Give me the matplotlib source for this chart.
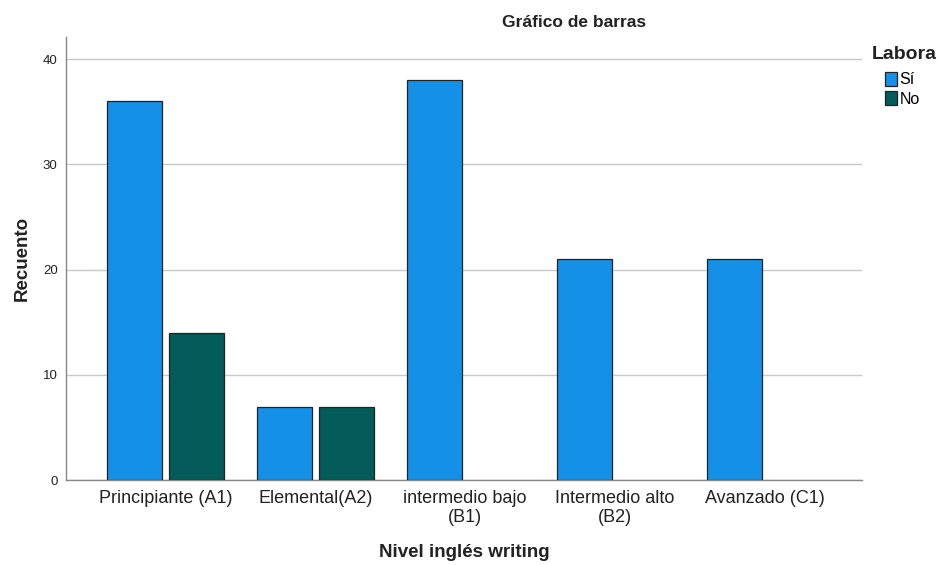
#!/usr/bin/env python3
import matplotlib.pyplot as plt
import numpy as np

plt.rcParams['font.family'] = ['Liberation Sans', 'DejaVu Sans']

niveles = ['Principiante (A1)', 'Elemental(A2)', 'intermedio bajo\n(B1)',
           'Intermedio alto\n(B2)', 'Avanzado (C1)']
si = [36, 7, 38, 21, 21]
no = [14, 7, 0, 0, 0]

color_si = '#1490e6'
color_no = '#035c5a'


def main():
    fig = plt.figure(figsize=(9.4, 5.65), dpi=100)
    ax = fig.add_axes([0.0702, 0.150, 0.847, 0.7845])

    x = np.arange(len(niveles))
    w = 0.367
    off = 0.205
    h_si = ax.bar(x - off, si, w, color=color_si, edgecolor='#222222', linewidth=0.9, zorder=3)
    # categories with zero count get no bar
    no_x = [xi + off for xi, v in zip(x, no) if v > 0]
    no_v = [v for v in no if v > 0]
    h_no = ax.bar(no_x, no_v, w, color=color_no, edgecolor='#222222', linewidth=0.9, zorder=3)

    ax.set_xlim(-0.665, 4.65)
    ax.set_ylim(0, 42.1)
    ax.set_yticks([0, 10, 20, 30, 40])
    ax.set_xticks(x)
    ax.set_xticklabels(niveles, fontsize=13, color='#222222', linespacing=1.12)
    ax.tick_params(axis='x', length=0, pad=7)
    ax.tick_params(axis='y', length=0, pad=6, labelsize=9.5, labelcolor='#222222')
    ax.grid(axis='y', color='#c8c8c8', linewidth=1.0, zorder=0)

    for s in ['top', 'right']:
        ax.spines[s].set_visible(False)
    for s in ['left', 'bottom']:
        ax.spines[s].set_color('#888888')
        ax.spines[s].set_linewidth(1.0)

    fig.text(0.611, 0.961, 'Gráfico de barras', ha='center', va='center',
             fontsize=12.5, fontweight='bold', color='#222222')
    ax.set_ylabel('Recuento', fontsize=13.5, fontweight='bold', color='#222222', labelpad=9)
    ax.set_xlabel('Nivel inglés writing', fontsize=13.5, fontweight='bold', color='#222222', labelpad=13)

    fig.text(0.962, 0.904, 'Labora', ha='center', va='center',
             fontsize=14, fontweight='bold', color='#222222')
    fig.legend([h_si, h_no], ['Sí', 'No'], loc='upper left',
               bbox_to_anchor=(0.941, 0.873), frameon=False, fontsize=11.5,
               handlelength=0.75, handleheight=0.95, handletextpad=0.2,
               labelspacing=0.25, borderaxespad=0, borderpad=0)

    fig.savefig('out.png', dpi=100)


if __name__ == '__main__':
    main()
